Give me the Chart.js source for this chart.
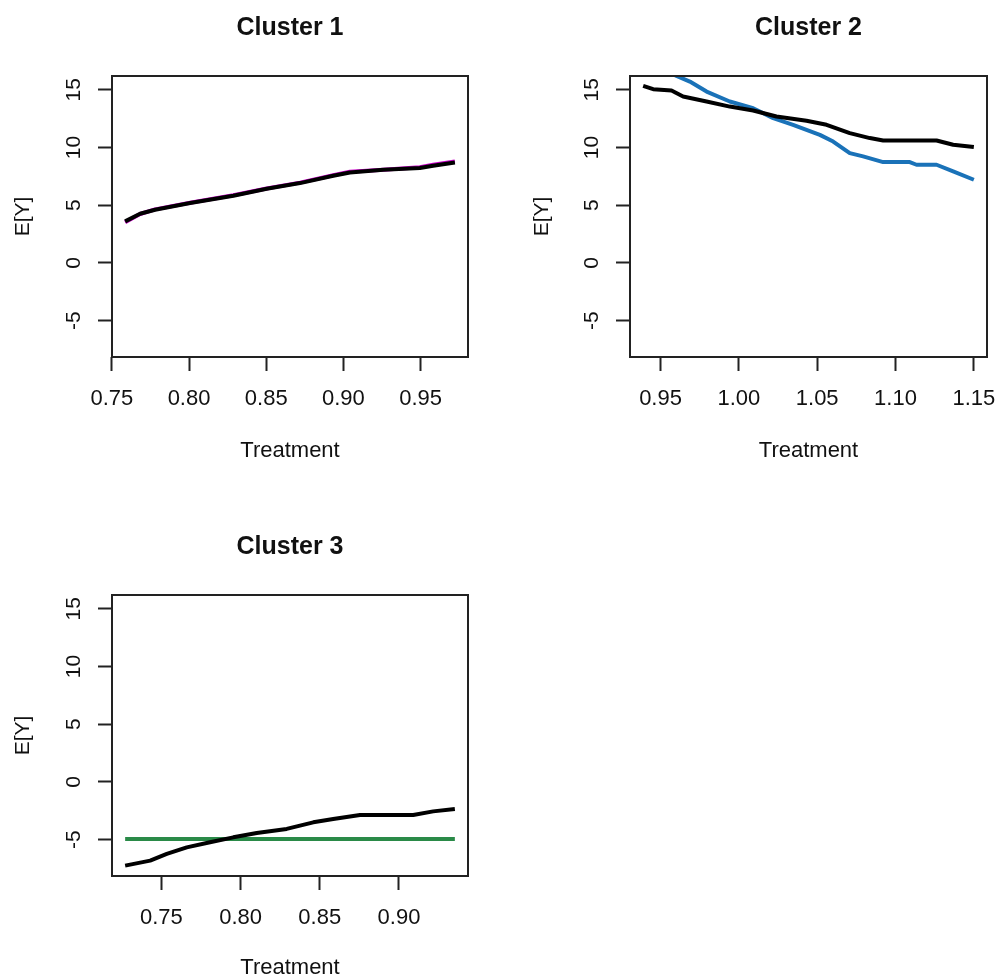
<!DOCTYPE html>
<html>
<head>
<meta charset="utf-8">
<script src="https://cdn.jsdelivr.net/npm/chart.js@4/dist/chart.umd.min.js"></script>
<style>
  html, body { margin: 0; padding: 0; background: #ffffff; overflow: hidden; }
  body { width: 998px; height: 979px; position: relative; }
  canvas { position: absolute; }
</style>
</head>
<body>
<canvas id="p1"></canvas>
<canvas id="p2"></canvas>
<canvas id="p3"></canvas>
<script>
// ---------- data ----------
const panelTitles = ["Cluster 1", "Cluster 2", "Cluster 3"];
const xLabel = "Treatment";
const yLabel = "E[Y]";

const yTicks = [-5, 0, 5, 10, 15];
const xTicks1 = [0.75, 0.80, 0.85, 0.90, 0.95];
const xTicks2 = [0.95, 1.00, 1.05, 1.10, 1.15];
const xTicks3 = [0.75, 0.80, 0.85, 0.90];

// Cluster 1
const c1X       = [0.7586, 0.7683, 0.7780, 0.8007, 0.8287, 0.8503, 0.8719, 0.8934, 0.9042, 0.9258, 0.9495, 0.9581, 0.9722];
const c1Black   = [3.60, 4.26, 4.61, 5.19, 5.82, 6.43, 6.92, 7.55, 7.84, 8.07, 8.22, 8.42, 8.71];
const c1Magenta = [3.52, 4.24, 4.64, 5.22, 5.86, 6.45, 6.96, 7.60, 7.90, 8.08, 8.30, 8.52, 8.80];

// Cluster 2
const c2XBlack = [0.9389, 0.9453, 0.9570, 0.9644, 0.9794, 0.9942, 1.0091, 1.0240, 1.0432, 1.0560, 1.0708, 1.0836, 1.0921, 1.1262, 1.1368, 1.1500];
const c2Black  = [15.35, 15.06, 14.94, 14.42, 13.99, 13.55, 13.21, 12.69, 12.32, 11.97, 11.25, 10.82, 10.61, 10.61, 10.24, 10.04];
const c2XBlue  = [0.9389, 0.9495, 0.9602, 0.9687, 0.9794, 0.9942, 1.0091, 1.0219, 1.0346, 1.0517, 1.0602, 1.0708, 1.0793, 1.0921, 1.1091, 1.1134, 1.1262, 1.1368, 1.1500];
const c2Blue   = [17.50, 16.90, 16.21, 15.72, 14.85, 13.99, 13.41, 12.55, 11.97, 11.10, 10.52, 9.52, 9.23, 8.74, 8.74, 8.51, 8.51, 7.93, 7.21];

// Cluster 3
const c3X     = [0.7271, 0.7429, 0.7534, 0.7660, 0.7807, 0.7954, 0.8102, 0.8291, 0.8459, 0.8585, 0.8754, 0.9090, 0.9216, 0.9353];
const c3Black = [-7.25, -6.82, -6.24, -5.67, -5.23, -4.80, -4.42, -4.07, -3.50, -3.21, -2.86, -2.86, -2.55, -2.34];
const c3XGreen = [0.7271, 0.9353];
const c3Green  = [-4.94, -4.94];

// ---------- helpers ----------
const FONT = "'Liberation Sans', Arial, Helvetica, sans-serif";
const TXT = '#111111';
const AXC = '#222222';

function pts(xs, ys) { return xs.map((x, i) => ({ x: x, y: ys[i] })); }

const boxPlugin = {
  id: 'rbox',
  afterDraw(chart) {
    const a = chart.chartArea, ctx = chart.ctx;
    ctx.save();
    ctx.strokeStyle = AXC;
    ctx.lineWidth = 2;
    ctx.strokeRect(Math.round(a.left), Math.round(a.top), Math.round(a.right - a.left), Math.round(a.bottom - a.top));
    ctx.restore();
  }
};

function makePanel(id, rect, plot, xr, xTicks, title, datasets, yTitlePad, xTitlePad) {
  const cv = document.getElementById(id);
  cv.width = rect.w; cv.height = rect.h;
  cv.style.left = rect.left + 'px'; cv.style.top = rect.top + 'px';
  cv.style.width = rect.w + 'px'; cv.style.height = rect.h + 'px';
  const gridOpts = { display: true, drawOnChartArea: false, drawTicks: true, tickLength: 14, tickColor: AXC, tickWidth: 2 };
  return new Chart(cv.getContext('2d'), {
    type: 'line',
    data: { datasets: datasets },
    plugins: [boxPlugin],
    options: {
      responsive: false,
      animation: false,
      devicePixelRatio: 1,
      layout: { padding: { left: 0, top: 0, right: rect.w - plot.right, bottom: 0 }, autoPadding: false },
      plugins: { legend: { display: false }, tooltip: { enabled: false }, title: { display: false } },
      elements: { point: { radius: 0 }, line: { tension: 0 } },
      scales: {
        x: {
          type: 'linear', position: 'bottom', min: xr[0], max: xr[1],
          afterBuildTicks: s => { s.ticks = xTicks.map(v => ({ value: v })); },
          afterFit: s => { s.height = rect.h - plot.bottom; },
          ticks: { font: { family: FONT, size: 22 }, color: TXT, padding: 14.8, minRotation: 0, maxRotation: 0, autoSkip: false,
                   callback: v => Number(v).toFixed(2) },
          grid: gridOpts,
          border: { display: false },
          title: { display: true, text: xLabel, color: TXT, font: { family: FONT, size: 22 }, padding: { top: 0, bottom: xTitlePad } }
        },
        top: {
          type: 'linear', position: 'top', min: 0, max: 1, display: true,
          afterFit: s => { s.height = plot.top; },
          ticks: { display: false },
          grid: { display: false, drawTicks: false },
          border: { display: false },
          title: { display: true, text: title, color: TXT, font: { family: FONT, size: 25, weight: 'bold' }, padding: { top: 13, bottom: 0 } }
        },
        y: {
          type: 'linear', position: 'left', min: -8.15, max: 16.2,
          afterBuildTicks: s => { s.ticks = yTicks.map(v => ({ value: v })); },
          afterFit: s => { s.width = plot.left; },
          ticks: { font: { family: FONT, size: 21 }, color: TXT, padding: 12.5, minRotation: 90, maxRotation: 90, crossAlign: 'center', autoSkip: false,
                   callback: v => String(v) },
          grid: gridOpts,
          border: { display: false },
          title: { display: true, text: yLabel, color: TXT, font: { family: FONT, size: 21 }, padding: { top: yTitlePad, bottom: 0 } }
        }
      }
    }
  });
}

function ds(data, color) {
  return { data: data, borderColor: color, backgroundColor: color, borderWidth: 4, pointRadius: 0, fill: false,
           tension: 0, borderJoinStyle: 'round', clip: 0 };
}

// Panel 1
makePanel('p1', { left: 0, top: 0, w: 499, h: 489 }, { left: 112, top: 76, right: 468, bottom: 357 },
  [0.7501, 0.9807], xTicks1, panelTitles[0],
  [ds(pts(c1X, c1Black), '#000000'), ds(pts(c1X, c1Magenta), '#CC00CC')], 10.5, 24.8);

// Panel 2 (canvas extends past the window edge so the last tick label has room)
makePanel('p2', { left: 499, top: 0, w: 540, h: 489 }, { left: 131, top: 76, right: 488, bottom: 357 },
  [0.9305, 1.1584], xTicks2, panelTitles[1],
  [ds(pts(c2XBlack, c2Black), '#000000'), ds(pts(c2XBlue, c2Blue), '#1A72B8')], 30.5, 24.8);

// Panel 3 (canvas extends below the window edge)
makePanel('p3', { left: 0, top: 519, w: 499, h: 489 }, { left: 112, top: 76, right: 468, bottom: 357 },
  [0.7188, 0.9436], xTicks3, panelTitles[2],
  [ds(pts(c3X, c3Black), '#000000'), ds(pts(c3XGreen, c3Green), '#2A8A48')], 10.5, 26.8);
</script>
</body>
</html>
